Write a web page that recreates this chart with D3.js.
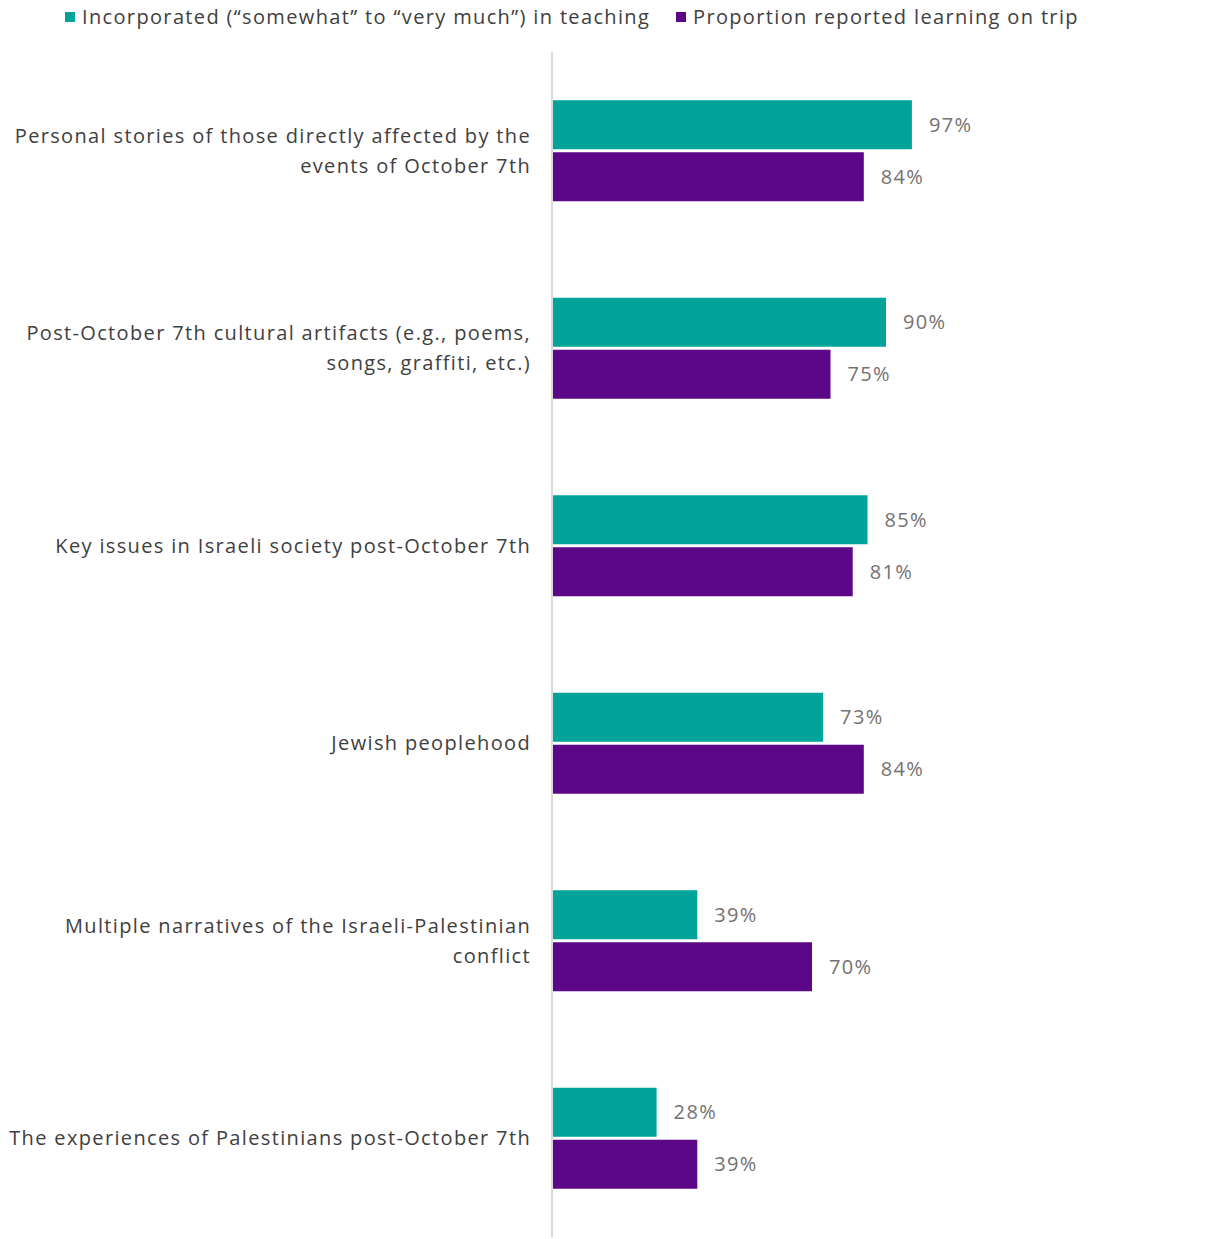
<!DOCTYPE html>
<html>
<head>
<meta charset="utf-8">
<script src="https://cdn.jsdelivr.net/npm/d3@7"></script>
<style>
  body { margin: 0; background: #fff; }
  text { font-family: "Open Sans", Lato, sans-serif; letter-spacing: 1.35px; }
</style>
</head>
<body>
<svg id="chart" width="1231" height="1239"></svg>
<script>
var categories = [
    ["Personal stories of those directly affected by the", "events of October 7th"],
    ["Post-October 7th cultural artifacts (e.g., poems,", "songs, graffiti, etc.)"],
    ["Key issues in Israeli society post-October 7th"],
    ["Jewish peoplehood"],
    ["Multiple narratives of the Israeli-Palestinian", "conflict"],
    ["The experiences of Palestinians post-October 7th"]
]
var seriesNames = ["Incorporated (\u201Csomewhat\u201D to \u201Cvery much\u201D) in teaching", "Proportion reported learning on trip"]
var teaching = [97, 90, 85, 73, 39, 28]
var trip = [84, 75, 81, 84, 70, 39]
var colors = ["#00A499", "#5C0787"]

var svg = d3.select("#chart")

var x = d3.scaleLinear().domain([0, 100]).range([553, 923])
var y = d3.scaleBand().domain(d3.range(categories.length)).range([52, 1237])

var barH = 49, gap = 3

// axis line
svg.append("line")
    .attr("x1", 552).attr("x2", 552)
    .attr("y1", 52).attr("y2", 1237)
    .attr("stroke", "#d9d9d9").attr("stroke-width", 2)

var series = [teaching, trip]
series.forEach(function(vals, si) {
    var g = svg.append("g")
    g.selectAll("rect")
        .data(vals)
        .enter().append("rect")
        .attr("x", x(0))
        .attr("y", function(d, i) { return y(i) + y.bandwidth() / 2 - barH - gap / 2 + si * (barH + gap) })
        .attr("width", function(d) { return x(d) - x(0) })
        .attr("height", barH)
        .attr("fill", colors[si])
    g.selectAll("text")
        .data(vals)
        .enter().append("text")
        .attr("x", function(d) { return x(d) + 17 })
        .attr("y", function(d, i) { return y(i) + y.bandwidth() / 2 - barH / 2 - gap / 2 + si * (barH + gap) })
        .attr("dy", "0.35em")
        .attr("font-size", 20)
        .attr("fill", "#767171")
        .text(function(d) { return d + "%" })
})

// category labels
var lab = svg.append("g").selectAll("text")
    .data(categories)
    .enter().append("text")
    .attr("text-anchor", "end")
    .attr("font-size", 20)
    .attr("fill", "#404040")
    .attr("y", function(d, i) { return y(i) + y.bandwidth() / 2 - (d.length - 1) * 15 })
lab.selectAll("tspan")
    .data(function(d) { return d })
    .enter().append("tspan")
    .attr("x", 531)
    .attr("dy", function(d, j) { return j === 0 ? "0.35em" : 30 })
    .text(function(d) { return d })

// legend
var legX = [65, 676]
seriesNames.forEach(function(name, i) {
    svg.append("rect")
        .attr("x", legX[i]).attr("y", 12)
        .attr("width", 10).attr("height", 10)
        .attr("fill", colors[i])
    svg.append("text")
        .attr("x", legX[i] + 17).attr("y", 17)
        .attr("dy", "0.35em")
        .attr("font-size", 20)
        .attr("fill", "#404040")
        .text(name)
})
</script>
</body>
</html>
